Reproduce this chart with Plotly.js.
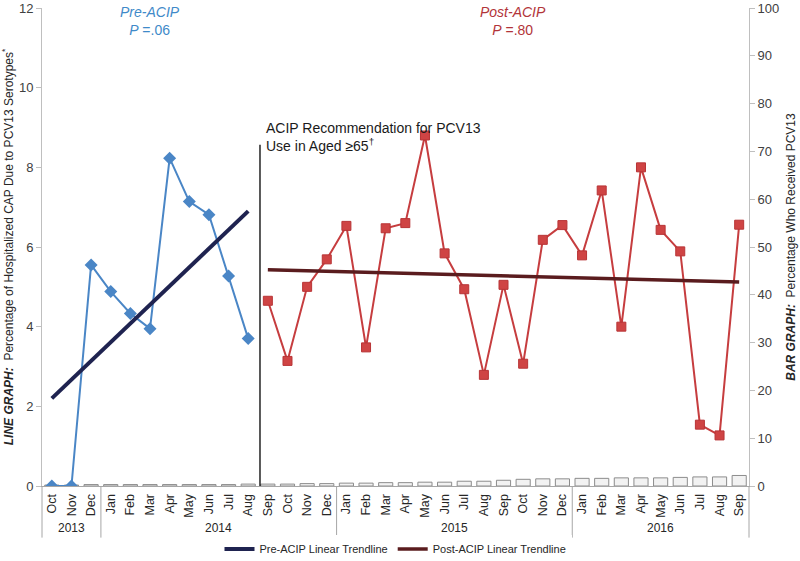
<!DOCTYPE html>
<html>
<head>
<meta charset="utf-8">
<script src="https://cdn.plot.ly/plotly-3.0.1.min.js"></script>
<style>html,body{margin:0;padding:0;background:#fff;}#chart{width:800px;height:561px;}</style>
</head>
<body>
<div id="chart"></div>
<script>
// ---- data ----
const months = ["Oct","Nov","Dec","Jan","Feb","Mar","Apr","May","Jun","Jul","Aug","Sep",
  "Oct","Nov","Dec","Jan","Feb","Mar","Apr","May","Jun","Jul","Aug","Sep",
  "Oct","Nov","Dec","Jan","Feb","Mar","Apr","May","Jun","Jul","Aug","Sep"];
const years = ["2013","2013","2013","2014","2014","2014","2014","2014","2014","2014","2014","2014",
  "2014","2014","2014","2015","2015","2015","2015","2015","2015","2015","2015","2015",
  "2015","2015","2015","2016","2016","2016","2016","2016","2016","2016","2016","2016"];
// BAR GRAPH: percentage who received PCV13
const barValues = [0.2,0.2,0.3,0.3,0.3,0.3,0.3,0.3,0.3,0.3,0.4,0.4,
  0.4,0.5,0.5,0.6,0.6,0.7,0.7,0.8,0.8,1.0,1.0,1.2,
  1.4,1.5,1.5,1.6,1.6,1.7,1.7,1.7,1.8,1.9,1.9,2.2];
// LINE GRAPH: percentage of hospitalized CAP due to PCV13 serotypes
const preValues = [0,0,5.55,4.88,4.33,3.95,8.23,7.14,6.81,5.27,3.70];   // Oct 2013 - Aug 2014
const postValues = [4.65,3.14,5.0,5.69,6.53,3.48,6.47,6.6,8.8,5.84,4.94,2.79,
  5.05,3.07,6.18,6.55,5.79,7.42,4.0,8.0,6.43,5.89,1.54,1.27,6.56];      // Sep 2014 - Sep 2016
const preTrend = [2.2, 6.9];     // endpoints Oct 2013, Aug 2014
const postTrend = [5.43, 5.12];  // endpoints Sep 2014, Sep 2016

// positions derived from the data arrays
const idx = months.map((m, i) => i);
const preX = idx.slice(0, preValues.length);
const postX = idx.slice(preValues.length, preValues.length + postValues.length);

const blue = '#4a86c6', red = '#c63d3f';
const font = 'Liberation Sans, Arial, sans-serif';

const traces = [
  {type:'bar', x: idx, y: barValues, yaxis:'y', width:0.72,
   marker:{color:'#f2f2f2', line:{color:'#8c8c8c', width:1}}, showlegend:false, hoverinfo:'y'},
  {type:'scatter', mode:'lines+markers', x: preX, y: preValues, yaxis:'y2',
   line:{color:blue, width:2}, marker:{symbol:'diamond', size:10, color:blue}, showlegend:false},
  {type:'scatter', mode:'lines+markers', x: postX, y: postValues, yaxis:'y2',
   line:{color:red, width:2}, marker:{symbol:'square', size:9, color:'#cf4444', line:{color:'#b83436', width:1}}, showlegend:false},
  {type:'scatter', mode:'lines', x:[preX[0], preX[preX.length-1]], y: preTrend, yaxis:'y2',
   line:{color:'#1f2350', width:4}, name:'Pre-ACIP Linear Trendline'},
  {type:'scatter', mode:'lines', x:[postX[0], postX[postX.length-1]], y: postTrend, yaxis:'y2',
   line:{color:'#5a1c1e', width:3.5}, name:'Post-ACIP Linear Trendline'}
];

// year groups
const yearNames = [...new Set(years)];
const annotations = [];
const shapes = [];
yearNames.forEach((yr, k) => {
  const first = years.indexOf(yr), last = years.lastIndexOf(yr);
  annotations.push({x:(first+last)/2, xref:'x', y:-0.088, yref:'paper', text:yr, showarrow:false,
    font:{family:font, size:12, color:'#262626'}, yanchor:'middle'});
  if (k > 0) {
    shapes.push({type:'line', xref:'x', yref:'paper', x0:first-0.5, x1:first-0.5, y0:0, y1:-0.108,
      line:{color:'#a6a6a6', width:1}});
  }
});
shapes.push({type:'line', xref:'paper', yref:'paper', x0:0, x1:0, y0:0, y1:-0.108, line:{color:'#a6a6a6', width:1}});
shapes.push({type:'line', xref:'paper', yref:'paper', x0:1, x1:1, y0:0, y1:-0.108, line:{color:'#a6a6a6', width:1}});
// ACIP recommendation line
shapes.push({type:'line', xref:'x', yref:'y2', x0:10.6, x1:10.6, y0:0, y1:8.57, line:{color:'#000', width:1.3}});

annotations.push({x:5, xref:'x', y:1, yref:'paper', yanchor:'top', yshift:6, showarrow:false,
  text:'<i>Pre-ACIP</i><br><i>P</i> =.06', font:{family:font, size:14, color:'#3f8ac9'}});
annotations.push({x:23.5, xref:'x', y:1, yref:'paper', yanchor:'top', yshift:6, showarrow:false,
  text:'<i>Post-ACIP</i><br><i>P</i> =.80', font:{family:font, size:14, color:'#b2343a'}});
annotations.push({x:10.8, xref:'x', y:9.25, yref:'y2', xanchor:'left', yanchor:'top', align:'left', showarrow:false,
  text:'ACIP Recommendation for PCV13<br>Use in Aged ≥65<sup>†</sup>', font:{family:font, size:14, color:'#1a1a1a'}});

const layout = {
  width:800, height:561,
  margin:{l:42, r:51, t:8, b:75, autoexpand:false},
  paper_bgcolor:'#fff', plot_bgcolor:'#fff',
  font:{family:font, color:'#404040'},
  showlegend:true,
  legend:{orientation:'h', x:0.5, xanchor:'center', y:-0.132, yanchor:'middle',
    font:{family:font, size:11, color:'#262626'}, tracegroupgap:0},
  xaxis:{range:[-0.5,35.5], tickvals:idx, ticktext:months, tickangle:-90,
    tickfont:{family:font, size:12.5, color:'#262626'}, showgrid:false, zeroline:false,
    showline:true, linecolor:'#a6a6a6', ticks:'', ticklabelstandoff:2, fixedrange:true, automargin:false},
  yaxis:{range:[0,100], side:'right', dtick:10, showgrid:false, zeroline:false,
    showline:true, linecolor:'#bfbfbf', ticks:'outside', ticklen:5, tickcolor:'#bfbfbf',
    tickfont:{family:font, size:13, color:'#404040'}, automargin:false,
    title:{text:'<b><i>BAR GRAPH:</i></b>  Percentage Who Received PCV13', font:{family:font, size:12, color:'#262626'}, standoff:8}},
  yaxis2:{range:[0,12], overlaying:'y', side:'left', dtick:2, showgrid:false, zeroline:false,
    showline:true, linecolor:'#bfbfbf', ticks:'outside', ticklen:5, tickcolor:'#bfbfbf',
    tickfont:{family:font, size:13, color:'#404040'}, automargin:false,
    title:{text:'<b><i>LINE GRAPH:</i></b>  Percentage of Hospitalized CAP Due to PCV13 Serotypes<sup>*</sup>', font:{family:font, size:12, color:'#262626'}, standoff:6}},
  shapes: shapes,
  annotations: annotations,
  bargap:0.3
};

Plotly.newPlot('chart', traces, layout, {displayModeBar:false, staticPlot:true});
</script>
</body>
</html>
